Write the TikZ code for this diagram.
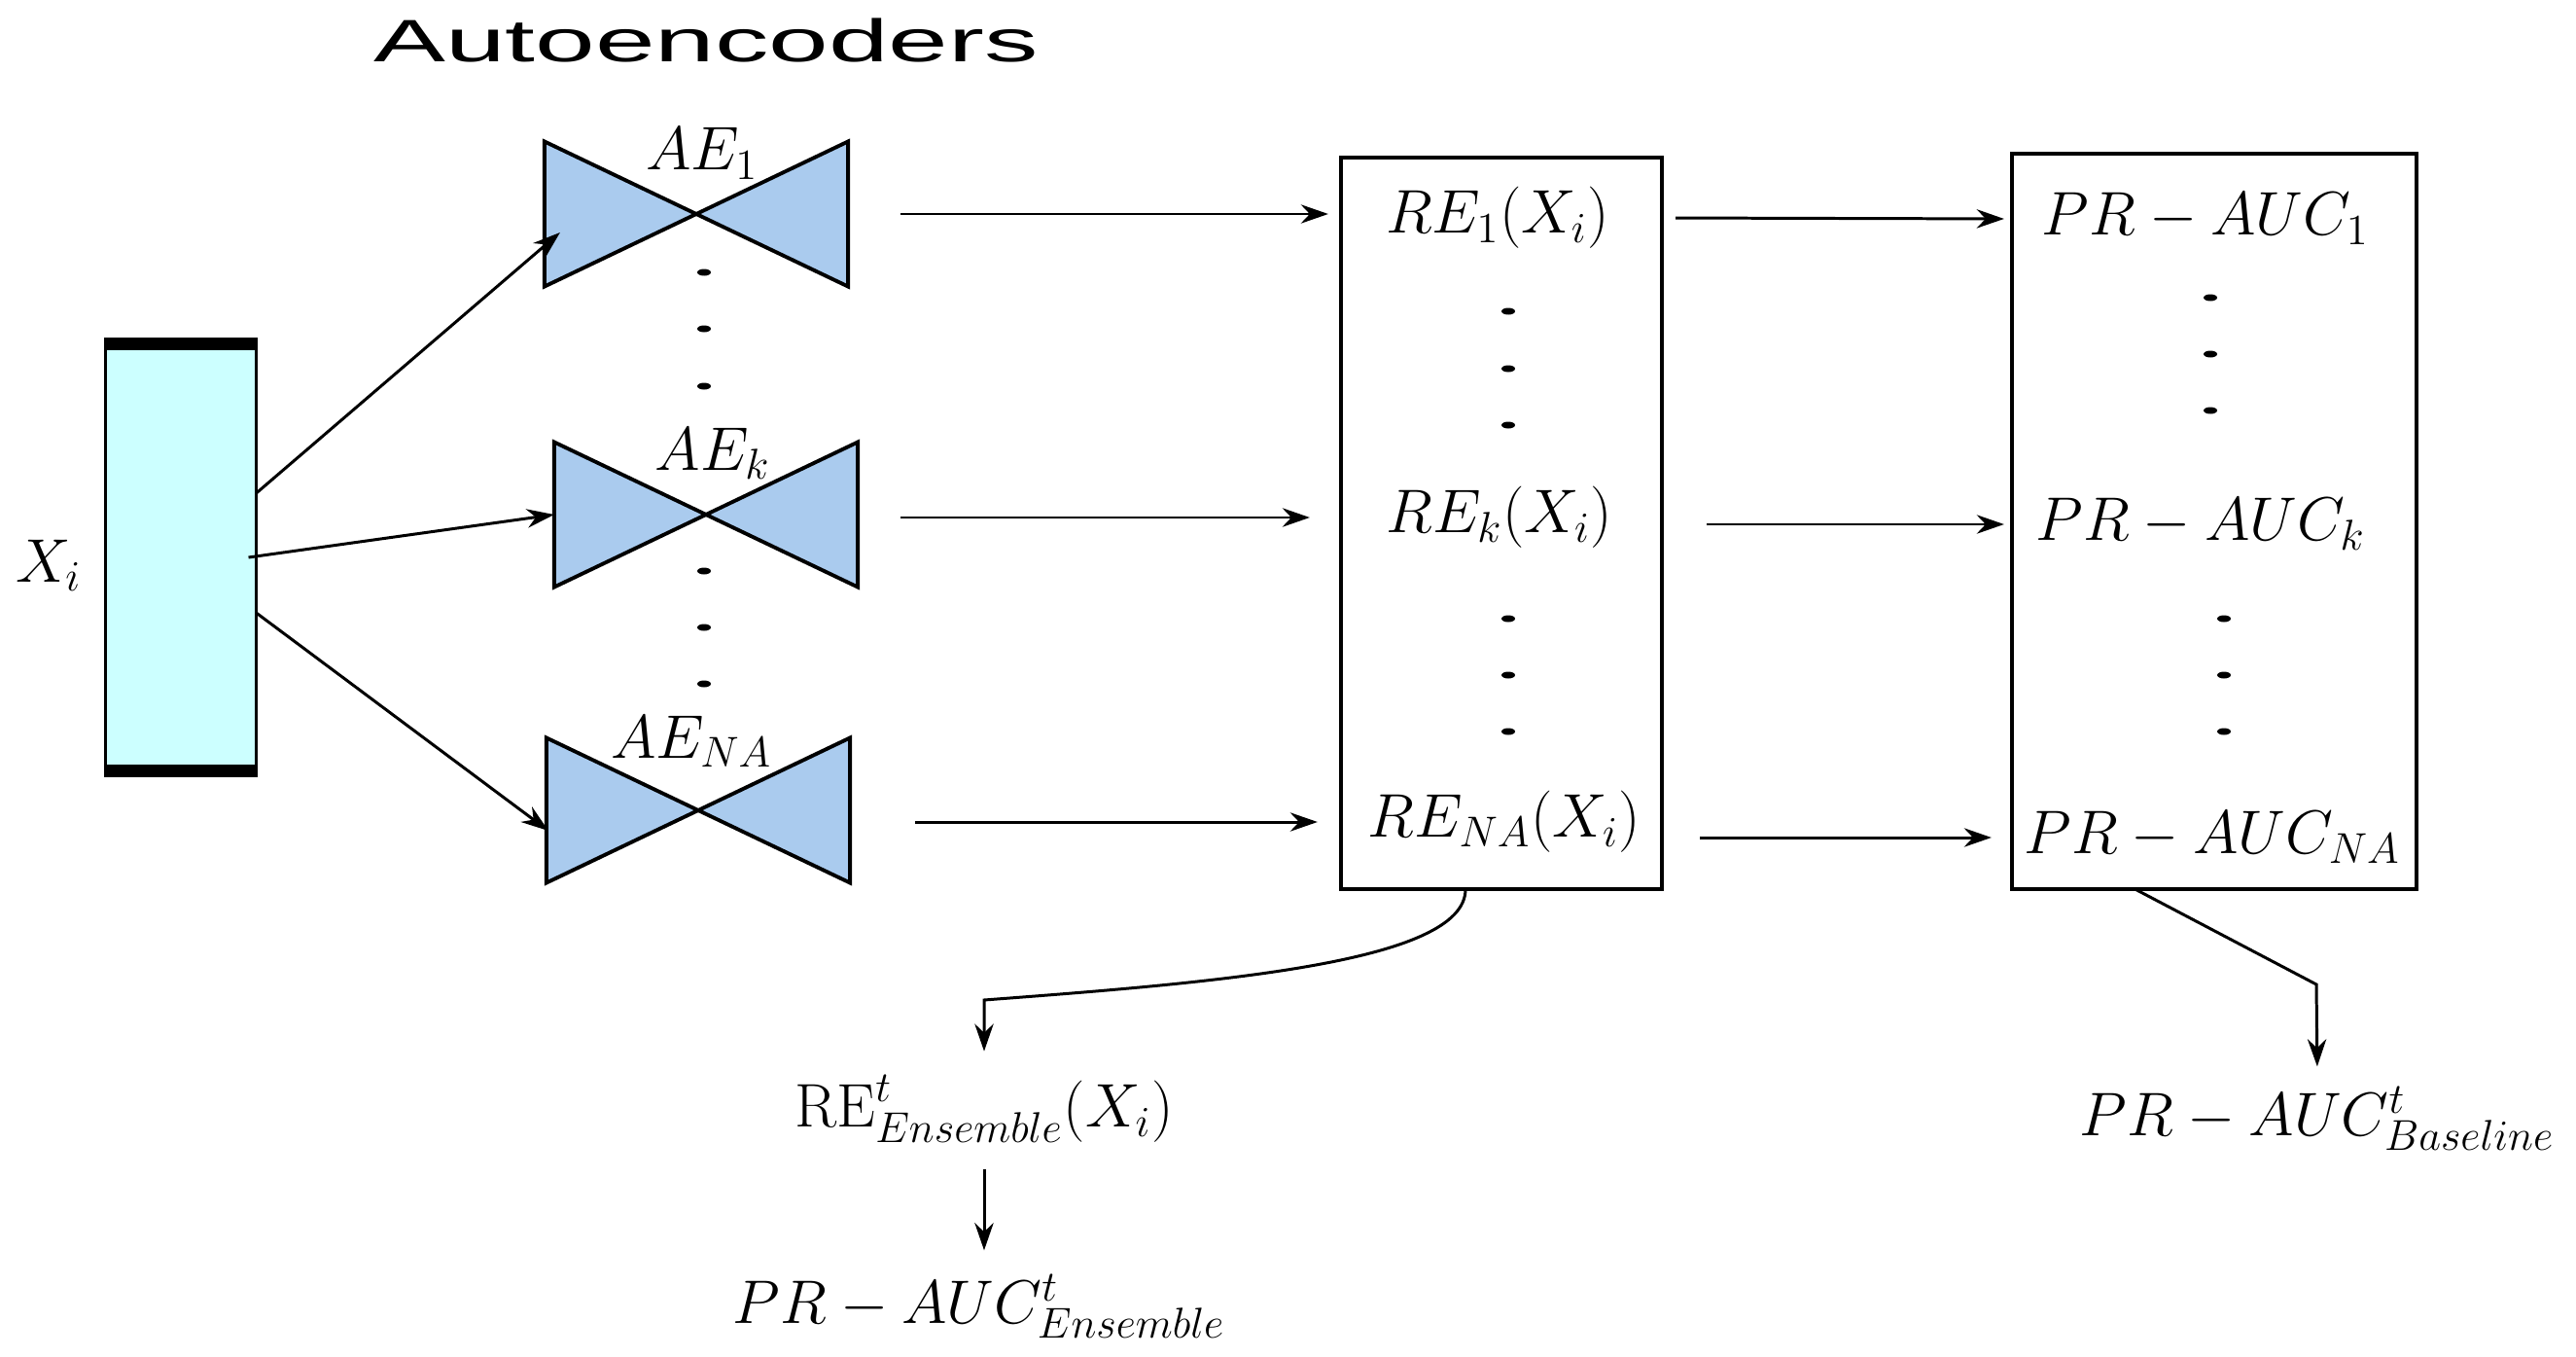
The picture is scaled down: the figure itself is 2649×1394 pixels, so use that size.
\RequirePackage{fix-cm}
\documentclass[tikz,border=0pt]{standalone}
\usepackage{fontspec}
\newfontfamily\titlefont{Liberation Sans}
\usetikzlibrary{arrows.meta}
\definecolor{tiecol}{RGB}{170,203,238}
\definecolor{incol}{RGB}{204,255,255}

\begin{document}
\begin{tikzpicture}[x=0.01cm,y=-0.01cm,
    lab/.style={font=\fontsize{18}{22}\selectfont,inner sep=2pt},
    aebox/.style={minimum width=3.12cm,minimum height=1.49cm,inner sep=0pt,outer sep=0pt},
    tie/.style={fill=tiecol,draw=black,line width=1.1pt},
    listbox/.style={draw,line width=1.2pt,inner sep=0pt,outer sep=0pt},
    arr/.style={line width=0.85pt,-{Stealth[length=8pt,width=5.5pt]}},
    bar/.style={line width=0.11cm}]
  \useasboundingbox (0,0) rectangle (2649,1394);

  \node[font=\titlefont\fontsize{17.5}{20}\selectfont,xscale=1.8] (title) at (726,42) {Autoencoders};

  % input vector
  \node[draw,fill=incol,line width=1.1pt,minimum width=1.55cm,minimum height=4.48cm,
        inner sep=0pt,outer sep=0pt] (xin) at (186,573) {};
  \draw[bar] ([yshift=-0.055cm]xin.north west) -- ([yshift=-0.055cm]xin.north east);
  \draw[bar] ([yshift=0.055cm]xin.south west) -- ([yshift=0.055cm]xin.south east);
  \node[lab,anchor=base] (xlab) at (50,598) {$X_i$};

  % autoencoders
  \node[aebox] (ae1) at (716,220) {};
  \node[aebox] (aek) at (726,529) {};
  \node[aebox] (aena) at (718,833) {};
  \filldraw[tie] (ae1.north west) -- (ae1.center) -- (ae1.north east) -- (ae1.south east) -- (ae1.center) -- (ae1.south west) -- cycle;
  \filldraw[tie] (aek.north west) -- (aek.center) -- (aek.north east) -- (aek.south east) -- (aek.center) -- (aek.south west) -- cycle;
  \filldraw[tie] (aena.north west) -- (aena.center) -- (aena.north east) -- (aena.south east) -- (aena.center) -- (aena.south west) -- cycle;
  \node[lab,anchor=base] (ae1lab) at (722,175) {$AE_1$};
  \node[lab,anchor=base] (aeklab) at (733,483) {$AE_k$};
  \node[lab,anchor=base] (aenalab) at (711,779) {$AE_{NA}$};

  % boxes
  \node[listbox,minimum width=3.3cm,minimum height=7.52cm] (rebox) at (1544,538) {};
  \node[listbox,minimum width=4.16cm,minimum height=7.55cm] (prbox) at (2277,536) {};
  \node[lab] (re1) at (1540,224) {$RE_1(X_i)$};
  \node[lab] (rek) at (1542,532) {$RE_k(X_i)$};
  \node[lab] (rena) at (1547,845) {$RE_{NA}(X_i)$};
  \node[lab] (pr1) at (2268,225) {$PR-AUC_1$};
  \node[lab] (prk) at (2263,539) {$PR-AUC_k$};
  \node[lab] (prna) at (2275,861) {$PR-AUC_{NA}$};

  % vertical dots
  \fill (724,280) ellipse (7 and 3.5) (724,338) ellipse (7 and 3.5) (724,397) ellipse (7 and 3.5)
        (724,587) ellipse (7 and 3.5) (724,645) ellipse (7 and 3.5) (724,703) ellipse (7 and 3.5);
  \fill (1551,320) ellipse (7 and 3.5) (1551,379) ellipse (7 and 3.5) (1551,437) ellipse (7 and 3.5)
        (1551,636) ellipse (7 and 3.5) (1551,694) ellipse (7 and 3.5) (1551,752) ellipse (7 and 3.5);
  \fill (2273,306) ellipse (7 and 3.5) (2273,364) ellipse (7 and 3.5) (2273,422) ellipse (7 and 3.5)
        (2287,636) ellipse (7 and 3.5) (2287,694) ellipse (7 and 3.5) (2287,752) ellipse (7 and 3.5);

  % results
  \node[lab] (reens) at (1012,1140) {$\mathrm{RE}^t_{Ensemble}(X_i)$};
  \node[lab] (prens) at (1007,1343) {$PR-AUC^t_{Ensemble}$};
  \node[lab] (prbase) at (2383,1150) {$PR-AUC^t_{Baseline}$};
  \coordinate (bend) at (2382,1012);

  \path[arr]
    ([yshift=0.66cm]xin.east) edge ([shift={(16,19)}]ae1.west)
    ([xshift=-0.08cm]xin.east) edge (aek.west)
    ([yshift=-0.57cm]xin.east) edge ([shift={(2,21)}]aena.west)
    (ae1.east) edge[shorten <=0.54cm,shorten >=0.13cm] (rebox.west |- ae1.east)
    (aek.east |- rek) edge[shorten <=0.44cm,shorten >=0.32cm] (rebox.west |- rek)
    (aena.east |- rena) edge[shorten <=0.67cm,shorten >=0.24cm] (rebox.west |- rena)
    (rebox.east |- re1) edge[shorten <=0.14cm,shorten >=0.08cm] (prbox.west |- pr1)
    (rebox.east |- prk) edge[shorten <=0.46cm,shorten >=0.08cm] (prbox.west |- prk)
    (rebox.east |- prna) edge[shorten <=0.39cm,shorten >=0.21cm] (prbox.west |- prna)
    (reens.south) edge[shorten <=0.2cm,shorten >=0.17cm] (reens.south |- prens.north);
  \draw[arr,shorten >=0.17cm] ([xshift=-0.37cm]rebox.south) .. controls (1507,990) and (1250,1010) .. (reens.north |- 0,1028) -- (reens.north);
  \draw[arr,shorten >=0.13cm] ([xshift=-0.82cm]prbox.south) -- (bend) -- (prbase.north);
\end{tikzpicture}
\end{document}
